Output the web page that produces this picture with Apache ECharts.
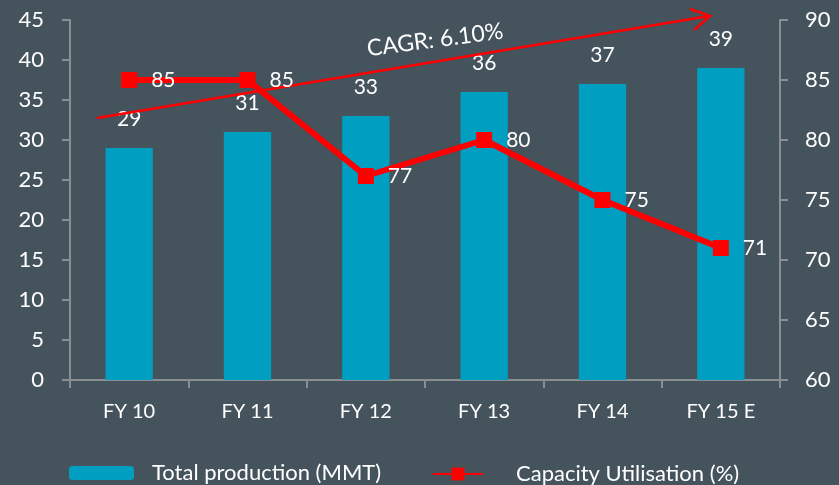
<!DOCTYPE html>
<html>
<head>
<meta charset="utf-8">
<script src="https://cdn.jsdelivr.net/npm/echarts@6/dist/echarts.min.js"></script>
<style>
  html, body { margin: 0; padding: 0; background: #45535d; }
  #main { width: 839px; height: 485px; }
</style>
</head>
<body>
<div id="main"></div>
<script>
var years = ['FY 10', 'FY 11', 'FY 12', 'FY 13', 'FY 14', 'FY 15 E'];
var production = [29, 31, 33, 36, 37, 39];
var utilisation = [85, 85, 77, 80, 75, 71];
var leftTicks = { min: 0, max: 45, interval: 5 };
var rightTicks = { min: 60, max: 90, interval: 5 };

var font = 'Lato';
var axisGray = '#8a8f93';

var chart = echarts.init(document.getElementById('main'));
chart.setOption({
    backgroundColor: '#45535d',
    animation: false,
    textStyle: { fontFamily: font },
    grid: { left: 70, right: 59, top: 20, bottom: 105 },
    legend: [
        {
            data: ['Total production (MMT)'],
            left: 64, top: 457,
            itemWidth: 65, itemHeight: 14,
            textStyle: { color: '#fff', fontSize: 22, fontFamily: font, padding: [0, 0, 0, 13] }
        },
        {
            data: ['Capacity Utilisation (%)'],
            left: 427, top: 458,
            itemWidth: 50, itemHeight: 16,
            textStyle: { color: '#fff', fontSize: 22, fontFamily: font, padding: [5, 0, 0, 28] }
        }
    ],
    xAxis: [{
        type: 'category',
        data: years,
        axisLine: { lineStyle: { color: axisGray, width: 2 } },
        axisTick: { show: true, length: 8, lineStyle: { color: axisGray, width: 2 } },
        axisLabel: { color: '#fff', fontSize: 20, margin: 22, fontFamily: font }
    }],
    yAxis: [
        {
            type: 'value',
            min: leftTicks.min, max: leftTicks.max, interval: leftTicks.interval,
            axisLine: { show: true, lineStyle: { color: axisGray, width: 2 } },
            axisTick: { show: true, length: 8, lineStyle: { color: axisGray, width: 2 } },
            splitLine: { show: false },
            axisLabel: { color: '#fff', fontSize: 22, margin: 26, fontFamily: font }
        },
        {
            type: 'value',
            min: rightTicks.min, max: rightTicks.max, interval: rightTicks.interval,
            axisLine: { show: true, lineStyle: { color: axisGray, width: 2 } },
            axisTick: { show: true, length: 8, lineStyle: { color: axisGray, width: 2 } },
            splitLine: { show: false },
            axisLabel: { color: '#fff', fontSize: 22, margin: 25, fontFamily: font }
        }
    ],
    series: [
        {
            name: 'Total production (MMT)',
            type: 'bar',
            data: production,
            barWidth: '40%',
            itemStyle: { color: '#009ec0' },
            label: { show: true, position: 'top', distance: 18, color: '#fff', fontSize: 21, fontFamily: font }
        },
        {
            name: 'Capacity Utilisation (%)',
            type: 'line',
            yAxisIndex: 1,
            data: utilisation,
            symbol: 'rect',
            symbolSize: 16,
            itemStyle: { color: '#ff0000' },
            lineStyle: { color: '#ff0000', width: 6 },
            z: 5,
            label: { show: true, position: 'right', distance: 14, color: '#fff', fontSize: 21, fontFamily: font }
        }
    ],
    graphic: [
        {
            type: 'polyline',
            z: 3,
            shape: { points: [[97, 118], [709, 16]] },
            style: { stroke: '#ff0000', lineWidth: 2.5, fill: null }
        },
        {
            type: 'polyline',
            z: 3,
            shape: { points: [[690, 9], [710, 16], [694, 30]] },
            style: { stroke: '#ff0000', lineWidth: 2.5, fill: null }
        },
        {
            type: 'text',
            z: 6,
            x: 435, y: 40,
            rotation: 0.13,
            style: {
                text: 'CAGR: 6.10%',
                fill: '#fff',
                font: '23px Lato',
                align: 'center',
                verticalAlign: 'middle'
            }
        }
    ]
});
</script>
</body>
</html>
